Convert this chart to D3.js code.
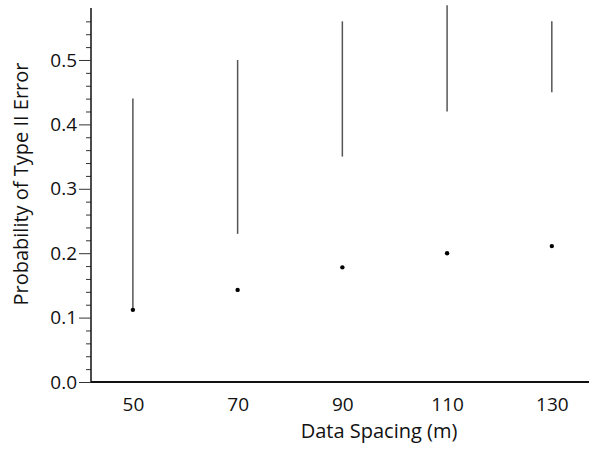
<!doctype html>
<html>
  <head>
    <meta charset="utf-8">
    <script src="https://cdnjs.cloudflare.com/ajax/libs/d3/7.8.5/d3.min.js"></script>
    <style>
      body { margin: 0; background: #fff; }
      text { font-family: "Open Sans", sans-serif; fill: #111; }
    </style>
  </head>
  <body>
    <div id="chart"></div>
    <script>
      // data
      const spacing = [50, 70, 90, 110, 130];
      const pointValue = [0.112, 0.143, 0.178, 0.200, 0.211];
      const rangeLow = [0.115, 0.23, 0.35, 0.42, 0.45];
      const rangeHigh = [0.44, 0.50, 0.56, 0.585, 0.56];
      const yTickValues = [0, 0.1, 0.2, 0.3, 0.4, 0.5];

      const width = 589, height = 449;
      const plotLeft = 91, plotBottom = 382, plotTop = 8, plotRight = 589;

      const x = d3.scaleLinear().domain([42, 137.1]).range([plotLeft, plotRight]);
      const y = d3.scaleLinear().domain([0, 0.5807]).range([plotBottom, plotTop]);

      const svg = d3.select('#chart').append('svg')
        .attr('width', width).attr('height', height);

      // minor y ticks
      const minor = d3.range(0, 0.58, 0.02).filter(v => Math.abs(v * 10 - Math.round(v * 10)) > 1e-6);
      svg.append('g')
        .attr('transform', `translate(${plotLeft},0)`)
        .call(d3.axisLeft(y).tickValues(minor).tickSize(5).tickFormat(''))
        .call(g => g.select('.domain').remove())
        .call(g => g.selectAll('line').attr('stroke', '#333'));

      // major y ticks
      const yAxis = svg.append('g')
        .attr('transform', `translate(${plotLeft},0)`)
        .call(d3.axisLeft(y).tickValues(yTickValues).tickSize(12).tickPadding(2).tickFormat(d3.format('.1f')));
      yAxis.select('.domain').attr('stroke', '#111').attr('stroke-width', 1.5).attr('d', `M0,${plotTop}V${plotBottom}`);
      yAxis.selectAll('line').attr('stroke', '#333');
      yAxis.selectAll('text').style('font-size', '19px');

      // x axis (labels only)
      const xAxis = svg.append('g')
        .attr('transform', `translate(0,${plotBottom})`)
        .call(d3.axisBottom(x).tickValues(spacing).tickSize(0).tickPadding(16));
      xAxis.select('.domain').attr('stroke', '#111').attr('stroke-width', 2).attr('d', `M${plotLeft},0H${plotRight}`);
      xAxis.selectAll('text').style('font-size', '19px');

      // range lines
      svg.append('g').selectAll('line')
        .data(spacing)
        .join('line')
        .attr('x1', d => x(d)).attr('x2', d => x(d))
        .attr('y1', (d, i) => y(rangeLow[i]))
        .attr('y2', (d, i) => y(rangeHigh[i]))
        .attr('stroke', '#555')
        .attr('stroke-width', 1.5);

      // points
      svg.append('g').selectAll('circle')
        .data(spacing)
        .join('circle')
        .attr('cx', d => x(d))
        .attr('cy', (d, i) => y(pointValue[i]))
        .attr('r', 2.2)
        .attr('fill', '#000');

      // axis titles
      svg.append('text')
        .attr('x', 379).attr('y', 438)
        .attr('text-anchor', 'middle')
        .style('font-size', '20px')
        .text('Data Spacing (m)');

      svg.append('text')
        .attr('transform', 'translate(28,184) rotate(-90)')
        .attr('text-anchor', 'middle')
        .style('font-size', '20px')
        .text('Probability of Type II Error');
    </script>
  </body>
</html>
